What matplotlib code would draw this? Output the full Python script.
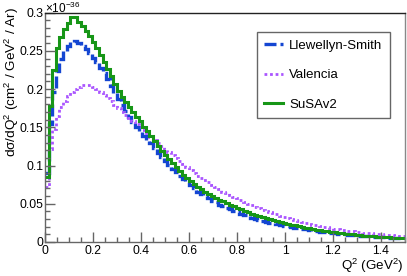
import numpy as np
import matplotlib
matplotlib.use('Agg')
import matplotlib.pyplot as plt
from matplotlib.ticker import MultipleLocator, FuncFormatter

# Q2 binning (GeV^2) and cross sections in units of 1e-36 cm^2 / GeV^2 / Ar
q2_min = 0.0
q2_max = 1.5
n_bins = 100

llewellyn_smith = [
    0.090, 0.155, 0.196, 0.224, 0.240, 0.250, 0.257, 0.262, 0.263, 0.260,
    0.256, 0.252, 0.247, 0.241, 0.235, 0.228, 0.221, 0.213, 0.204, 0.195,
    0.187, 0.179, 0.171, 0.163, 0.157, 0.151, 0.145, 0.139, 0.134, 0.129,
    0.123, 0.117, 0.111, 0.106, 0.101, 0.096, 0.091, 0.086, 0.082, 0.078,
    0.074, 0.070, 0.066, 0.063, 0.060, 0.057, 0.054, 0.052, 0.049, 0.047,
    0.045, 0.043, 0.041, 0.039, 0.037, 0.035, 0.0335, 0.032, 0.0305, 0.029,
    0.0278, 0.0266, 0.0255, 0.0244, 0.0234, 0.0224, 0.0215, 0.0206, 0.0197, 0.0188,
    0.0180, 0.0172, 0.0164, 0.0157, 0.0150, 0.0143, 0.0137, 0.0131, 0.0125, 0.0119,
    0.0114, 0.0109, 0.0104, 0.0099, 0.0095, 0.0091, 0.0087, 0.0083, 0.0079, 0.0076,
    0.0072, 0.0069, 0.0066, 0.0063, 0.0060, 0.0057, 0.0055, 0.0052, 0.0050, 0.0047,
]

valencia = [
    0.072, 0.122, 0.148, 0.165, 0.177, 0.185, 0.191, 0.196, 0.200, 0.203,
    0.205, 0.2057, 0.205, 0.203, 0.200, 0.196, 0.192, 0.188, 0.184, 0.179,
    0.175, 0.170, 0.166, 0.162, 0.158, 0.154, 0.150, 0.146, 0.142, 0.138,
    0.134, 0.130, 0.126, 0.122, 0.118, 0.114, 0.110, 0.106, 0.102, 0.098,
    0.094, 0.090, 0.087, 0.084, 0.081, 0.078, 0.075, 0.072, 0.069, 0.066,
    0.064, 0.062, 0.059, 0.057, 0.055, 0.052, 0.050, 0.048, 0.046, 0.044,
    0.042, 0.0405, 0.039, 0.0375, 0.036, 0.0345, 0.033, 0.0315, 0.030, 0.0287,
    0.0274, 0.0262, 0.0250, 0.0239, 0.0228, 0.0218, 0.0208, 0.0199, 0.0190, 0.0182,
    0.0174, 0.0167, 0.0160, 0.0153, 0.0146, 0.0140, 0.0134, 0.0128, 0.0123, 0.0118,
    0.0113, 0.0108, 0.0103, 0.0099, 0.0094, 0.0090, 0.0086, 0.0082, 0.0078, 0.0074,
]

susav2 = [
    0.085, 0.178, 0.225, 0.254, 0.268, 0.279, 0.287, 0.294, 0.294, 0.288,
    0.283, 0.276, 0.269, 0.262, 0.254, 0.245, 0.236, 0.226, 0.217, 0.207,
    0.198, 0.190, 0.183, 0.176, 0.170, 0.164, 0.158, 0.151, 0.145, 0.139,
    0.132, 0.126, 0.119, 0.114, 0.108, 0.103, 0.098, 0.093, 0.088, 0.084,
    0.080, 0.076, 0.072, 0.069, 0.066, 0.063, 0.060, 0.057, 0.055, 0.053,
    0.051, 0.049, 0.047, 0.045, 0.043, 0.041, 0.039, 0.037, 0.0355, 0.034,
    0.0325, 0.031, 0.0297, 0.0285, 0.0273, 0.0262, 0.0250, 0.0239, 0.0228, 0.0217,
    0.0206, 0.0196, 0.0187, 0.0178, 0.0170, 0.0162, 0.0155, 0.0148, 0.0141, 0.0134,
    0.0127, 0.0121, 0.0115, 0.0109, 0.0104, 0.0099, 0.0094, 0.0089, 0.0085, 0.0081,
    0.0077, 0.0073, 0.0069, 0.0066, 0.0062, 0.0059, 0.0056, 0.0053, 0.0050, 0.0047,
]

labels = ['Llewellyn-Smith', 'Valencia', 'SuSAv2']


def tick_fmt(v, pos):
    return '%g' % round(v, 3)


def make_plot():
    plt.rcParams['font.family'] = ['Liberation Sans', 'DejaVu Sans']
    plt.rcParams['mathtext.fontset'] = 'custom'
    plt.rcParams['mathtext.rm'] = 'Liberation Sans'
    plt.rcParams['mathtext.it'] = 'Liberation Sans:italic'

    edges = np.linspace(q2_min, q2_max, n_bins + 1)

    fig = plt.figure(figsize=(4.07, 2.76), dpi=100)
    ax = fig.add_axes([45 / 407, 34 / 276, 360 / 407, 229.3 / 276])

    # histograms drawn as steps, ROOT style
    h1 = ax.stairs(llewellyn_smith, edges, baseline=None, color='#1446d2',
                   linewidth=2.4, linestyle=(0, (3.6, 1.2)), label=labels[0])
    h2 = ax.stairs(valencia, edges, baseline=None, color='#aa55ff',
                   linewidth=2.0, linestyle=(0, (1, 1)), label=labels[1])
    h3 = ax.stairs(susav2, edges, baseline=None, color='#179617',
                   linewidth=2.2, linestyle='-', label=labels[2])
    for h in (h1, h2, h3):
        h.set_joinstyle('miter')
        h.set_capstyle('butt')

    ax.set_xlim(q2_min, q2_max)
    ax.set_ylim(0, 0.3)

    ax.xaxis.set_major_locator(MultipleLocator(0.2))
    ax.xaxis.set_minor_locator(MultipleLocator(0.05))
    ax.yaxis.set_major_locator(MultipleLocator(0.05))
    ax.yaxis.set_minor_locator(MultipleLocator(0.01))
    ax.xaxis.set_major_formatter(FuncFormatter(tick_fmt))
    ax.yaxis.set_major_formatter(FuncFormatter(tick_fmt))

    ax.tick_params(which='both', direction='in', color='#666666', width=1.0,
                   labelsize=8.8, top=False, right=False)
    ax.tick_params(which='major', length=7.2)
    ax.tick_params(which='minor', length=3.6)
    ax.tick_params(axis='y', pad=1.3)
    ax.tick_params(axis='x', pad=2.0)

    ax.spines['top'].set_color('#222222')
    ax.spines['right'].set_color('#888888')
    ax.spines['left'].set_color('#666666')
    ax.spines['bottom'].set_color('#666666')
    for s in ax.spines.values():
        s.set_linewidth(1.0)

    # axis titles, aligned at the axis ends like ROOT
    fig.text(12 / 407, 1 - 7 / 276, 'd\u03c3/dQ$^2$ (cm$^2$ / GeV$^2$ / Ar)',
             rotation=90, ha='center', va='top', fontsize=9.7)
    fig.text(403 / 407, 1 - 266 / 276, 'Q$^2$ (GeV$^2$)',
             ha='right', va='center', fontsize=9.6)
    fig.text(45 / 407, 1 - 0.5 / 276, r'$\times$10$^{-36}$',
             ha='left', va='top', fontsize=8.5)

    leg = ax.legend(loc='upper left', bbox_to_anchor=(0.588, 0.9145),
                    fontsize=9.5, frameon=True, fancybox=False, framealpha=1,
                    edgecolor='#666666', borderpad=0.57, labelspacing=1.3,
                    handlelength=1.45, handletextpad=0.45, borderaxespad=0)
    leg.get_frame().set_linewidth(1.0)

    fig.savefig('out.png', dpi=100)
    plt.close(fig)


if __name__ == "__main__":
    make_plot()
